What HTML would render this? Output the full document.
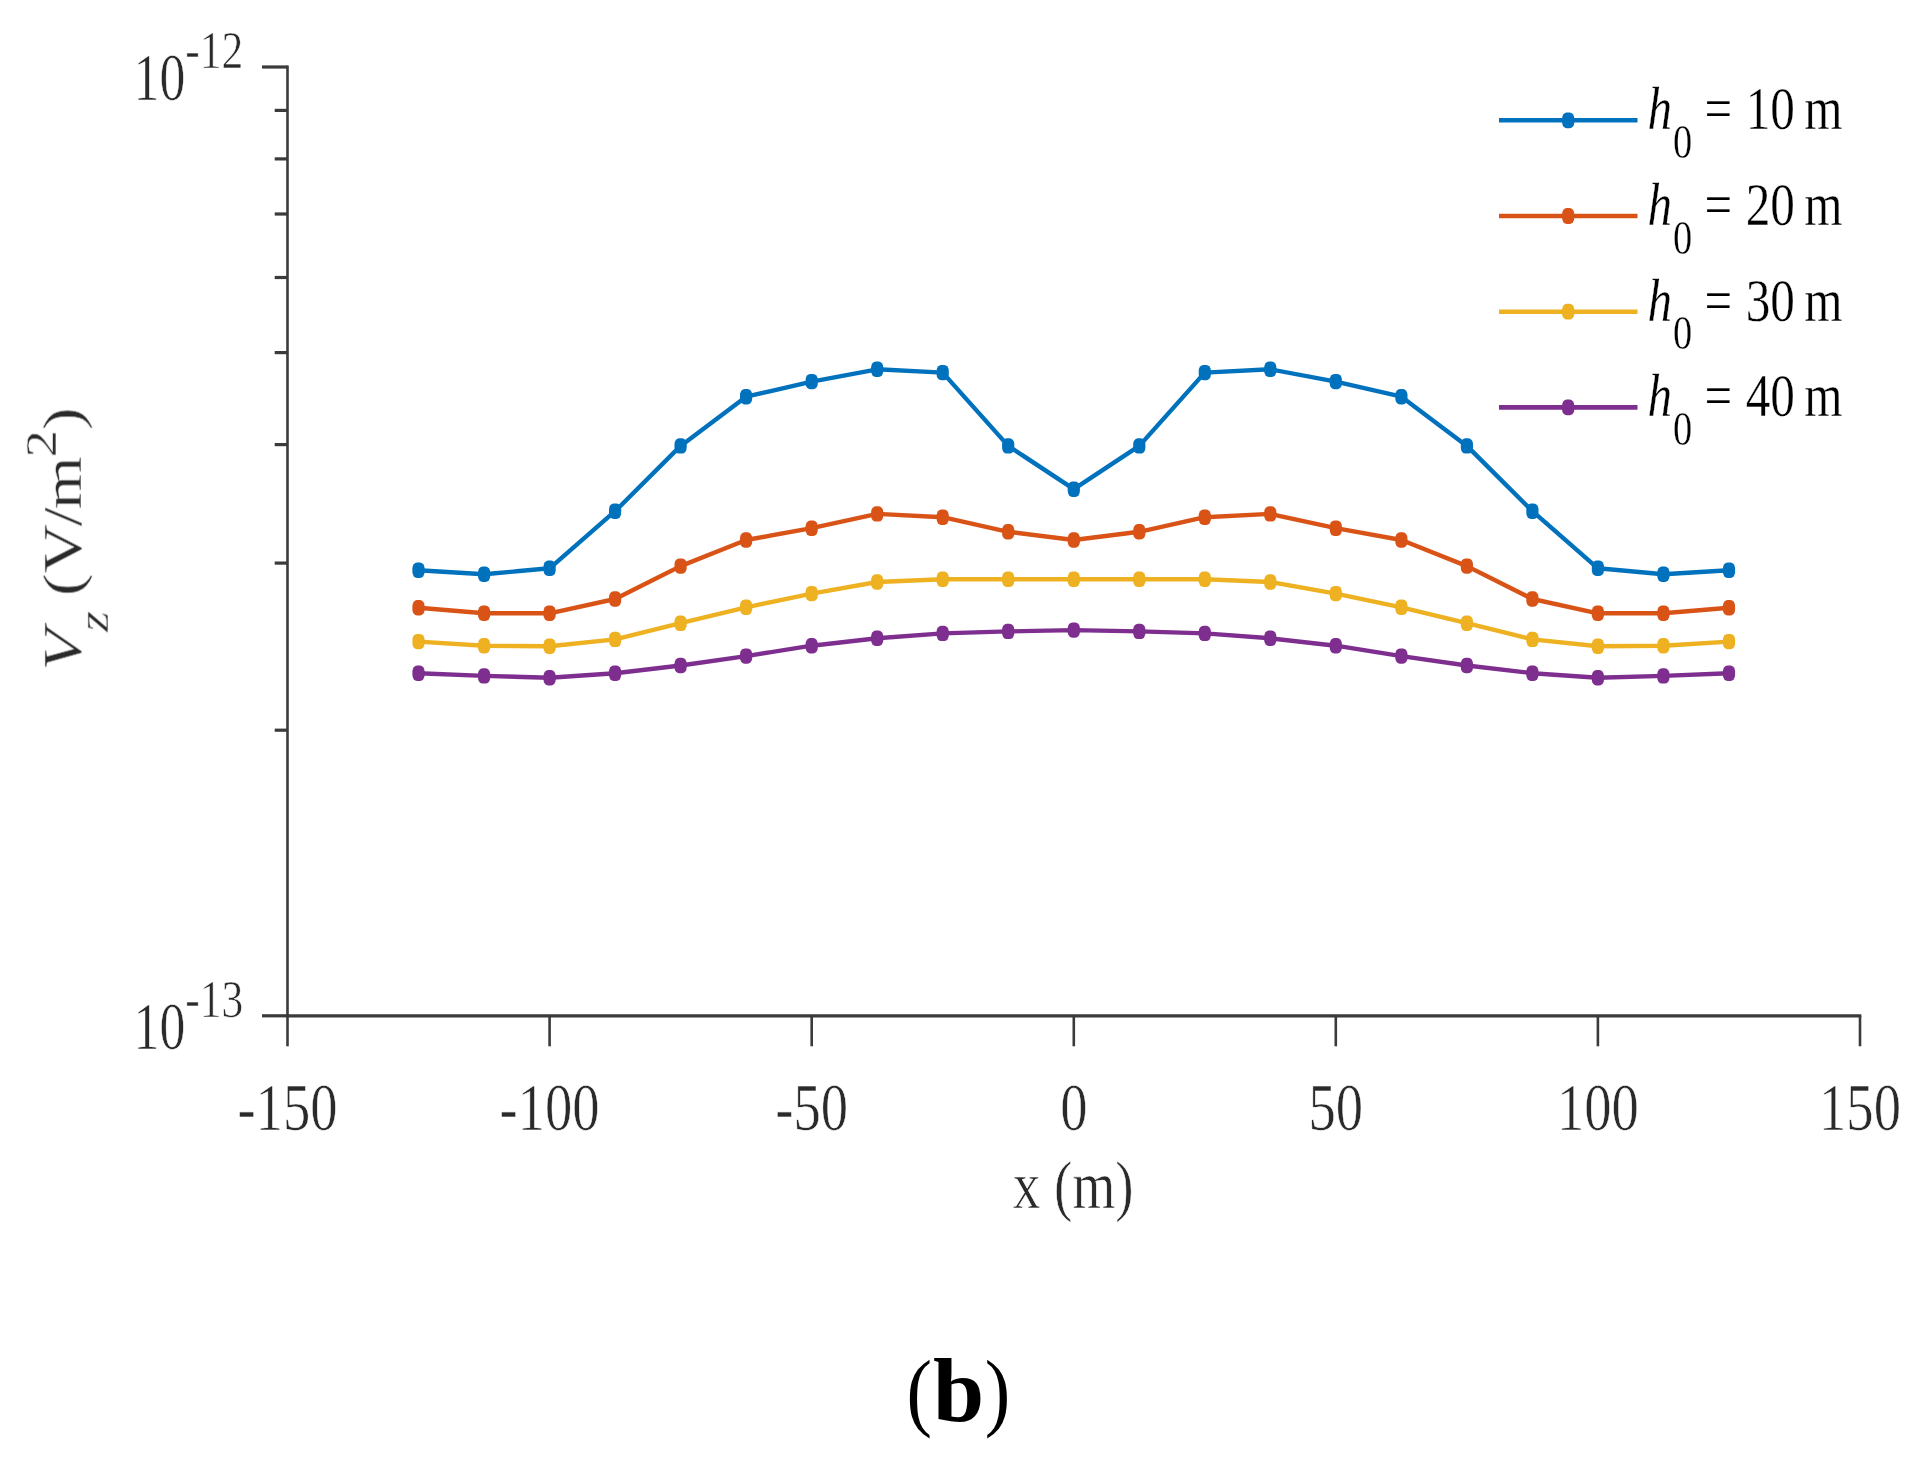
<!DOCTYPE html>
<html lang="en"><head><meta charset="utf-8"><title>Vz profile (b)</title>
<style>html,body{margin:0;padding:0;background:#fff}svg{display:block}text{font-family:"Liberation Serif",serif;fill:#2a2a2a}.t text{stroke:#fff;stroke-width:.6px;paint-order:fill stroke}.l text{stroke-width:.35px}</style></head><body>
<svg width="1926" height="1457" viewBox="0 0 1926 1457">
<rect width="1926" height="1457" fill="#fff"/>
<defs><filter id="soft" x="0" y="0" width="100%" height="100%" filterUnits="userSpaceOnUse" primitiveUnits="userSpaceOnUse"><feGaussianBlur stdDeviation="0.7"/></filter></defs>
<g filter="url(#soft)">
<g stroke="#3a3a3a" fill="none" stroke-linecap="butt">
<path stroke-width="2.6" d="M287.5 65.5 V1017.3"/>
<path stroke-width="3.2" d="M286.2 1015.8 H1861.3"/>
<path stroke-width="3.2" d="M262.0 67.0 H287.5"/>
<path stroke-width="3.2" d="M262.0 1015.8 H287.5"/>
<path stroke-width="3.2" d="M274.7 730.2 H287.5"/>
<path stroke-width="3.2" d="M274.7 563.1 H287.5"/>
<path stroke-width="3.2" d="M274.7 444.6 H287.5"/>
<path stroke-width="3.2" d="M274.7 352.6 H287.5"/>
<path stroke-width="3.2" d="M274.7 277.5 H287.5"/>
<path stroke-width="3.2" d="M274.7 214.0 H287.5"/>
<path stroke-width="3.2" d="M274.7 158.9 H287.5"/>
<path stroke-width="3.2" d="M274.7 110.4 H287.5"/>
<path stroke-width="2.6" d="M287.5 1015.8 V1046.3"/>
<path stroke-width="2.6" d="M549.6 1015.8 V1046.3"/>
<path stroke-width="2.6" d="M811.7 1015.8 V1046.3"/>
<path stroke-width="2.6" d="M1073.8 1015.8 V1046.3"/>
<path stroke-width="2.6" d="M1335.8 1015.8 V1046.3"/>
<path stroke-width="2.6" d="M1597.9 1015.8 V1046.3"/>
<path stroke-width="2.6" d="M1860.0 1015.8 V1046.3"/>
</g>
<g class="t">
<text transform="translate(287.5 1129.7) scale(0.803 1)" font-size="68" text-anchor="middle">-150</text>
<text transform="translate(549.6 1129.7) scale(0.803 1)" font-size="68" text-anchor="middle">-100</text>
<text transform="translate(811.7 1129.7) scale(0.803 1)" font-size="68" text-anchor="middle">-50</text>
<text transform="translate(1073.8 1129.7) scale(0.803 1)" font-size="68" text-anchor="middle">0</text>
<text transform="translate(1335.8 1129.7) scale(0.803 1)" font-size="68" text-anchor="middle">50</text>
<text transform="translate(1597.9 1129.7) scale(0.803 1)" font-size="68" text-anchor="middle">100</text>
<text transform="translate(1860.0 1129.7) scale(0.803 1)" font-size="68" text-anchor="middle">150</text>
<text transform="translate(133.6 100.0) scale(0.763 1)" font-size="67.8">10</text>
<text transform="translate(185.3 68.0) scale(0.83 1)" font-size="52.5">-12</text>
<text transform="translate(133.6 1048.8) scale(0.763 1)" font-size="67.8">10</text>
<text transform="translate(185.3 1016.8) scale(0.83 1)" font-size="52.5">-13</text>
<text transform="translate(1073.2 1208) scale(0.81 1)" font-size="68" text-anchor="middle">x (m)</text>
<text transform="translate(80.5 670.5) scale(0.82 1) rotate(-90)" font-size="68"><tspan font-style="italic">V</tspan><tspan font-size="54" dy="34" dx="-3" font-style="italic">z</tspan><tspan dy="-34" dx="-2"> (V</tspan><tspan dx="-2">/</tspan><tspan dx="-2">m</tspan><tspan font-size="55" dy="-29.5" dx="-1">2</tspan><tspan dy="29.5" dx="0">)</tspan></text>
</g>
<polyline points="418.5,570.2 484.1,574.3 549.6,568.3 615.1,511.2 680.6,445.9 746.1,396.7 811.7,381.6 877.2,369.3 942.7,372.6 1008.2,445.9 1073.8,489.2 1139.3,445.9 1204.8,372.6 1270.3,369.3 1335.8,381.6 1401.4,396.7 1466.9,445.9 1532.4,511.2 1597.9,568.3 1663.4,574.3 1729.0,570.2" fill="none" stroke="#0072BD" stroke-width="4.4" stroke-linejoin="round"/>
<g fill="#0072BD"><rect x="412.4" y="562.5" width="12.2" height="15.4" rx="4.6" ry="5.8"/><rect x="478.0" y="566.6" width="12.2" height="15.4" rx="4.6" ry="5.8"/><rect x="543.5" y="560.6" width="12.2" height="15.4" rx="4.6" ry="5.8"/><rect x="609.0" y="503.5" width="12.2" height="15.4" rx="4.6" ry="5.8"/><rect x="674.5" y="438.2" width="12.2" height="15.4" rx="4.6" ry="5.8"/><rect x="740.0" y="389.0" width="12.2" height="15.4" rx="4.6" ry="5.8"/><rect x="805.6" y="373.9" width="12.2" height="15.4" rx="4.6" ry="5.8"/><rect x="871.1" y="361.6" width="12.2" height="15.4" rx="4.6" ry="5.8"/><rect x="936.6" y="364.9" width="12.2" height="15.4" rx="4.6" ry="5.8"/><rect x="1002.1" y="438.2" width="12.2" height="15.4" rx="4.6" ry="5.8"/><rect x="1067.7" y="481.5" width="12.2" height="15.4" rx="4.6" ry="5.8"/><rect x="1133.2" y="438.2" width="12.2" height="15.4" rx="4.6" ry="5.8"/><rect x="1198.7" y="364.9" width="12.2" height="15.4" rx="4.6" ry="5.8"/><rect x="1264.2" y="361.6" width="12.2" height="15.4" rx="4.6" ry="5.8"/><rect x="1329.7" y="373.9" width="12.2" height="15.4" rx="4.6" ry="5.8"/><rect x="1395.3" y="389.0" width="12.2" height="15.4" rx="4.6" ry="5.8"/><rect x="1460.8" y="438.2" width="12.2" height="15.4" rx="4.6" ry="5.8"/><rect x="1526.3" y="503.5" width="12.2" height="15.4" rx="4.6" ry="5.8"/><rect x="1591.8" y="560.6" width="12.2" height="15.4" rx="4.6" ry="5.8"/><rect x="1657.3" y="566.6" width="12.2" height="15.4" rx="4.6" ry="5.8"/><rect x="1722.9" y="562.5" width="12.2" height="15.4" rx="4.6" ry="5.8"/></g>
<polyline points="418.5,607.8 484.1,613.3 549.6,613.3 615.1,599.0 680.6,566.1 746.1,540.0 811.7,528.2 877.2,513.9 942.7,517.2 1008.2,531.8 1073.8,540.0 1139.3,531.8 1204.8,517.2 1270.3,513.9 1335.8,528.2 1401.4,540.0 1466.9,566.1 1532.4,599.0 1597.9,613.3 1663.4,613.3 1729.0,607.8" fill="none" stroke="#D95319" stroke-width="4.4" stroke-linejoin="round"/>
<g fill="#D95319"><rect x="412.4" y="600.1" width="12.2" height="15.4" rx="4.6" ry="5.8"/><rect x="478.0" y="605.6" width="12.2" height="15.4" rx="4.6" ry="5.8"/><rect x="543.5" y="605.6" width="12.2" height="15.4" rx="4.6" ry="5.8"/><rect x="609.0" y="591.3" width="12.2" height="15.4" rx="4.6" ry="5.8"/><rect x="674.5" y="558.4" width="12.2" height="15.4" rx="4.6" ry="5.8"/><rect x="740.0" y="532.3" width="12.2" height="15.4" rx="4.6" ry="5.8"/><rect x="805.6" y="520.5" width="12.2" height="15.4" rx="4.6" ry="5.8"/><rect x="871.1" y="506.2" width="12.2" height="15.4" rx="4.6" ry="5.8"/><rect x="936.6" y="509.5" width="12.2" height="15.4" rx="4.6" ry="5.8"/><rect x="1002.1" y="524.1" width="12.2" height="15.4" rx="4.6" ry="5.8"/><rect x="1067.7" y="532.3" width="12.2" height="15.4" rx="4.6" ry="5.8"/><rect x="1133.2" y="524.1" width="12.2" height="15.4" rx="4.6" ry="5.8"/><rect x="1198.7" y="509.5" width="12.2" height="15.4" rx="4.6" ry="5.8"/><rect x="1264.2" y="506.2" width="12.2" height="15.4" rx="4.6" ry="5.8"/><rect x="1329.7" y="520.5" width="12.2" height="15.4" rx="4.6" ry="5.8"/><rect x="1395.3" y="532.3" width="12.2" height="15.4" rx="4.6" ry="5.8"/><rect x="1460.8" y="558.4" width="12.2" height="15.4" rx="4.6" ry="5.8"/><rect x="1526.3" y="591.3" width="12.2" height="15.4" rx="4.6" ry="5.8"/><rect x="1591.8" y="605.6" width="12.2" height="15.4" rx="4.6" ry="5.8"/><rect x="1657.3" y="605.6" width="12.2" height="15.4" rx="4.6" ry="5.8"/><rect x="1722.9" y="600.1" width="12.2" height="15.4" rx="4.6" ry="5.8"/></g>
<polyline points="418.5,641.6 484.1,645.7 549.6,646.3 615.1,639.4 680.6,623.2 746.1,607.3 811.7,593.6 877.2,582.0 942.7,579.3 1008.2,579.3 1073.8,579.3 1139.3,579.3 1204.8,579.3 1270.3,582.0 1335.8,593.6 1401.4,607.3 1466.9,623.2 1532.4,639.4 1597.9,646.3 1663.4,645.7 1729.0,641.6" fill="none" stroke="#EDB120" stroke-width="4.4" stroke-linejoin="round"/>
<g fill="#EDB120"><rect x="412.4" y="633.9" width="12.2" height="15.4" rx="4.6" ry="5.8"/><rect x="478.0" y="638.0" width="12.2" height="15.4" rx="4.6" ry="5.8"/><rect x="543.5" y="638.6" width="12.2" height="15.4" rx="4.6" ry="5.8"/><rect x="609.0" y="631.7" width="12.2" height="15.4" rx="4.6" ry="5.8"/><rect x="674.5" y="615.5" width="12.2" height="15.4" rx="4.6" ry="5.8"/><rect x="740.0" y="599.6" width="12.2" height="15.4" rx="4.6" ry="5.8"/><rect x="805.6" y="585.9" width="12.2" height="15.4" rx="4.6" ry="5.8"/><rect x="871.1" y="574.3" width="12.2" height="15.4" rx="4.6" ry="5.8"/><rect x="936.6" y="571.6" width="12.2" height="15.4" rx="4.6" ry="5.8"/><rect x="1002.1" y="571.6" width="12.2" height="15.4" rx="4.6" ry="5.8"/><rect x="1067.7" y="571.6" width="12.2" height="15.4" rx="4.6" ry="5.8"/><rect x="1133.2" y="571.6" width="12.2" height="15.4" rx="4.6" ry="5.8"/><rect x="1198.7" y="571.6" width="12.2" height="15.4" rx="4.6" ry="5.8"/><rect x="1264.2" y="574.3" width="12.2" height="15.4" rx="4.6" ry="5.8"/><rect x="1329.7" y="585.9" width="12.2" height="15.4" rx="4.6" ry="5.8"/><rect x="1395.3" y="599.6" width="12.2" height="15.4" rx="4.6" ry="5.8"/><rect x="1460.8" y="615.5" width="12.2" height="15.4" rx="4.6" ry="5.8"/><rect x="1526.3" y="631.7" width="12.2" height="15.4" rx="4.6" ry="5.8"/><rect x="1591.8" y="638.6" width="12.2" height="15.4" rx="4.6" ry="5.8"/><rect x="1657.3" y="638.0" width="12.2" height="15.4" rx="4.6" ry="5.8"/><rect x="1722.9" y="633.9" width="12.2" height="15.4" rx="4.6" ry="5.8"/></g>
<polyline points="418.5,673.2 484.1,675.9 549.6,677.8 615.1,673.2 680.6,665.5 746.1,656.1 811.7,645.7 877.2,638.3 942.7,633.4 1008.2,631.4 1073.8,630.1 1139.3,631.4 1204.8,633.4 1270.3,638.3 1335.8,645.7 1401.4,656.1 1466.9,665.5 1532.4,673.2 1597.9,677.8 1663.4,675.9 1729.0,673.2" fill="none" stroke="#7E2F8E" stroke-width="4.4" stroke-linejoin="round"/>
<g fill="#7E2F8E"><rect x="412.4" y="665.5" width="12.2" height="15.4" rx="4.6" ry="5.8"/><rect x="478.0" y="668.2" width="12.2" height="15.4" rx="4.6" ry="5.8"/><rect x="543.5" y="670.1" width="12.2" height="15.4" rx="4.6" ry="5.8"/><rect x="609.0" y="665.5" width="12.2" height="15.4" rx="4.6" ry="5.8"/><rect x="674.5" y="657.8" width="12.2" height="15.4" rx="4.6" ry="5.8"/><rect x="740.0" y="648.4" width="12.2" height="15.4" rx="4.6" ry="5.8"/><rect x="805.6" y="638.0" width="12.2" height="15.4" rx="4.6" ry="5.8"/><rect x="871.1" y="630.6" width="12.2" height="15.4" rx="4.6" ry="5.8"/><rect x="936.6" y="625.7" width="12.2" height="15.4" rx="4.6" ry="5.8"/><rect x="1002.1" y="623.7" width="12.2" height="15.4" rx="4.6" ry="5.8"/><rect x="1067.7" y="622.4" width="12.2" height="15.4" rx="4.6" ry="5.8"/><rect x="1133.2" y="623.7" width="12.2" height="15.4" rx="4.6" ry="5.8"/><rect x="1198.7" y="625.7" width="12.2" height="15.4" rx="4.6" ry="5.8"/><rect x="1264.2" y="630.6" width="12.2" height="15.4" rx="4.6" ry="5.8"/><rect x="1329.7" y="638.0" width="12.2" height="15.4" rx="4.6" ry="5.8"/><rect x="1395.3" y="648.4" width="12.2" height="15.4" rx="4.6" ry="5.8"/><rect x="1460.8" y="657.8" width="12.2" height="15.4" rx="4.6" ry="5.8"/><rect x="1526.3" y="665.5" width="12.2" height="15.4" rx="4.6" ry="5.8"/><rect x="1591.8" y="670.1" width="12.2" height="15.4" rx="4.6" ry="5.8"/><rect x="1657.3" y="668.2" width="12.2" height="15.4" rx="4.6" ry="5.8"/><rect x="1722.9" y="665.5" width="12.2" height="15.4" rx="4.6" ry="5.8"/></g>
<g class="t l">
<path d="M1499 120.3 H1637.5" stroke="#0072BD" stroke-width="4.6" fill="none"/>
<rect x="1562.1" y="112.4" width="12.2" height="15.8" rx="4.6" ry="5.9" fill="#0072BD"/>
<text transform="translate(1647.5 129.3) scale(0.80 1)" font-size="61.5" style="fill:#000"><tspan font-style="italic">h</tspan><tspan font-size="48" dy="28.5" dx="1">0</tspan><tspan dy="-28.5" dx="0"> =</tspan><tspan dx="1.5"> 10</tspan><tspan dx="-3.5"> m</tspan></text>
<path d="M1499 216.0 H1637.5" stroke="#D95319" stroke-width="4.6" fill="none"/>
<rect x="1562.1" y="208.1" width="12.2" height="15.8" rx="4.6" ry="5.9" fill="#D95319"/>
<text transform="translate(1647.5 225.0) scale(0.80 1)" font-size="61.5" style="fill:#000"><tspan font-style="italic">h</tspan><tspan font-size="48" dy="28.5" dx="1">0</tspan><tspan dy="-28.5" dx="0"> =</tspan><tspan dx="1.5"> 20</tspan><tspan dx="-3.5"> m</tspan></text>
<path d="M1499 311.7 H1637.5" stroke="#EDB120" stroke-width="4.6" fill="none"/>
<rect x="1562.1" y="303.8" width="12.2" height="15.8" rx="4.6" ry="5.9" fill="#EDB120"/>
<text transform="translate(1647.5 320.7) scale(0.80 1)" font-size="61.5" style="fill:#000"><tspan font-style="italic">h</tspan><tspan font-size="48" dy="28.5" dx="1">0</tspan><tspan dy="-28.5" dx="0"> =</tspan><tspan dx="1.5"> 30</tspan><tspan dx="-3.5"> m</tspan></text>
<path d="M1499 407.4 H1637.5" stroke="#7E2F8E" stroke-width="4.6" fill="none"/>
<rect x="1562.1" y="399.5" width="12.2" height="15.8" rx="4.6" ry="5.9" fill="#7E2F8E"/>
<text transform="translate(1647.5 416.4) scale(0.80 1)" font-size="61.5" style="fill:#000"><tspan font-style="italic">h</tspan><tspan font-size="48" dy="28.5" dx="1">0</tspan><tspan dy="-28.5" dx="0"> =</tspan><tspan dx="1.5"> 40</tspan><tspan dx="-3.5"> m</tspan></text>
</g>
</g>
<g style="fill:#000"><text transform="translate(906.4 1420.3) scale(0.88 1)" font-size="87" style="fill:#000">(</text><text x="933" y="1420.5" font-size="92" font-weight="bold" style="fill:#000">b</text><text transform="translate(984.8 1420.3) scale(0.88 1)" font-size="87" style="fill:#000">)</text></g>
</svg></body></html>
